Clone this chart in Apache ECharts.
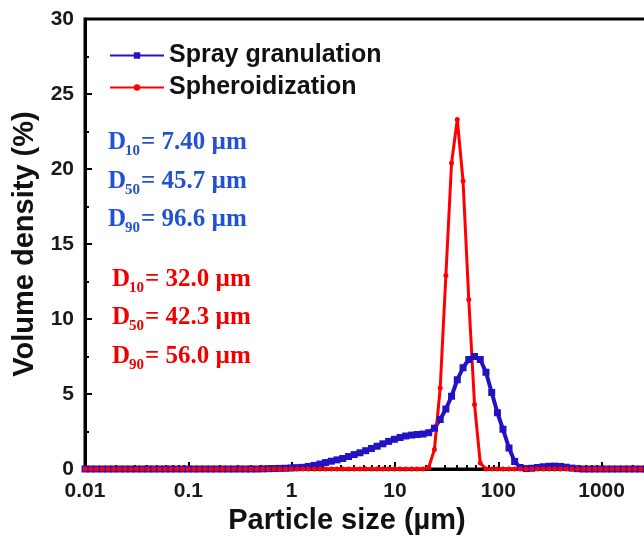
<!DOCTYPE html>
<html lang="en">
<head>
    <meta charset="utf-8" />
    <title>Particle size distribution</title>
    <script src="https://cdn.jsdelivr.net/npm/echarts@6/dist/echarts.min.js"></script>
    <style>
        html, body { margin: 0; padding: 0; background: #fff; }
        #chart { width: 644px; height: 538px; }
    </style>
</head>
<body>
    <div id="chart"></div>
    <script>
        // size classes (µm)
        var sizes = [0.0100, 0.0114, 0.0129, 0.0147, 0.0167, 0.0189, 0.0215, 0.0244, 0.0278, 0.0315,
            0.0358, 0.0407, 0.0463, 0.0526, 0.0597, 0.0679, 0.0771, 0.0876, 0.0995, 0.113,
            0.128, 0.146, 0.166, 0.188, 0.214, 0.243, 0.276, 0.314, 0.357, 0.405,
            0.460, 0.523, 0.594, 0.675, 0.767, 0.872, 0.991, 1.13, 1.28, 1.45,
            1.65, 1.88, 2.13, 2.42, 2.75, 3.12, 3.55, 4.03, 4.58, 5.21,
            5.92, 6.72, 7.64, 8.68, 9.86, 11.2, 12.7, 14.5, 16.4, 18.7,
            21.2, 24.1, 27.4, 31.1, 35.3, 40.1, 45.6, 51.8, 58.9, 66.9,
            76.0, 86.4, 98.1, 111, 127, 144, 163, 186, 211, 240,
            272, 310, 352, 400, 454, 516, 586, 666, 756, 859,
            976, 1110, 1260, 1430, 1630, 1850, 2100, 2390, 2710, 3080, 3500];

        // volume density (%) - spray granulation
        var spray = [0, 0, 0, 0, 0, 0, 0, 0, 0, 0,
            0, 0, 0, 0, 0, 0, 0, 0, 0, 0,
            0, 0, 0, 0, 0, 0, 0, 0, 0, 0,
            0, 0.01, 0.02, 0.03, 0.04, 0.05, 0.07, 0.09, 0.11, 0.17,
            0.24, 0.33, 0.43, 0.52, 0.61, 0.70, 0.83, 0.96, 1.08, 1.22,
            1.37, 1.52, 1.68, 1.84, 1.98, 2.10, 2.20, 2.26, 2.30, 2.33,
            2.42, 2.72, 3.30, 4.00, 4.85, 5.95, 6.75, 7.30, 7.50, 7.30,
            6.45, 5.10, 3.75, 2.65, 1.40, 0.50, 0.10, 0.03, 0.05, 0.10,
            0.15, 0.18, 0.19, 0.17, 0.12, 0.06, 0.02, 0, 0, 0,
            0, 0, 0, 0, 0, 0, 0, 0, 0, 0, 0];

        // volume density (%) - spheroidization
        var sphero = [0, 0, 0, 0, 0, 0, 0, 0, 0, 0,
            0, 0, 0, 0, 0, 0, 0, 0, 0, 0,
            0, 0, 0, 0, 0, 0, 0, 0, 0, 0,
            0, 0, 0, 0, 0, 0, 0, 0, 0, 0,
            0, 0, 0, 0, 0, 0, 0, 0, 0, 0,
            0, 0, 0, 0, 0, 0, 0, 0, 0, 0,
            0.1, 1.3, 5.4, 12.9, 20.4, 23.3, 19.2, 11.3, 4.3, 0.4,
            0, 0, 0, 0, 0, 0, 0, 0, 0, 0,
            0, 0, 0, 0, 0, 0, 0, 0, 0, 0,
            0, 0, 0, 0, 0, 0, 0, 0, 0, 0, 0];

        var seriesNames = ['Spray granulation', 'Spheroidization'];
        var xTickLabels = ['0.01', '0.1', '1', '10', '100', '1000'];
        var sprayText = [['10', '= 7.40 µm'], ['50', '= 45.7 µm'], ['90', '= 96.6 µm']];
        var spheroText = [['10', '= 32.0 µm'], ['50', '= 42.3 µm'], ['90', '= 56.0 µm']];

        var blue = '#2212c4';
        var red = '#ff0000';
        var txtBlue = '#2152d4';
        var txtRed = '#f20000';

        function pairs(ys) {
            var out = [];
            for (var i = 0; i < sizes.length; i++) out.push([sizes[i], ys[i]]);
            return out;
        }

        // minor tick spots 2..9 in each decade
        var minorTicks = [];
        for (var e = -2; e <= 3; e++) {
            for (var m = 2; m <= 9; m++) minorTicks.push(m * Math.pow(10, e));
        }

        // D10/D50/D90 texts
        var graphics = [];
        function addLines(list, x0, yList, color) {
            for (var i = 0; i < list.length; i++) {
                var y = yList[i];
                graphics.push({ type: 'text', x: x0, y: y, style: { text: 'D', fill: color, font: 'bold 25px "Liberation Serif"', verticalAlign: 'middle' } });
                graphics.push({ type: 'text', x: x0 + 17, y: y + 8, style: { text: list[i][0], fill: color, font: 'bold 15px "Liberation Serif"', verticalAlign: 'middle' } });
                graphics.push({ type: 'text', x: x0 + 33, y: y, style: { text: list[i][1], fill: color, font: 'bold 25px "Liberation Serif"', verticalAlign: 'middle' } });
            }
        }
        addLines(sprayText, 108, [143, 182, 220], txtBlue);
        addLines(spheroText, 112, [280, 318, 357], txtRed);

        var chart = echarts.init(document.getElementById('chart'), null, { renderer: 'canvas' });
        var option = {
            animation: false,
            backgroundColor: '#fff',
            textStyle: { fontFamily: '"Liberation Sans", Arial, sans-serif' },
            grid: {
                left: 85, right: -3, top: 19, bottom: 69,
                show: true, borderColor: '#000', borderWidth: 3,
                outerBoundsMode: 'none'
            },
            legend: {
                data: seriesNames,
                orient: 'vertical',
                left: 104, top: 38,
                itemWidth: 54, itemHeight: 8, itemGap: 7,
                textStyle: { fontSize: 25, fontWeight: 'bold', color: '#111' }
            },
            xAxis: [{
                type: 'log', logBase: 10, min: 0.01, max: 2750,
                name: 'Particle size (µm)', nameLocation: 'middle', nameGap: 37,
                nameTextStyle: { fontSize: 29, fontWeight: 'bold', color: '#111', padding: [0, 38, 0, 0] },
                axisLine: { lineStyle: { color: '#000', width: 3 } },
                axisTick: { inside: true, length: 7, lineStyle: { color: '#000', width: 2 } },
                axisLabel: {
                    fontSize: 21, fontWeight: 'bold', color: '#1a1a1a', margin: 12, showMaxLabel: false,
                    formatter: function (v) { return xTickLabels[Math.round(Math.log10(v)) + 2] || ''; }
                },
                splitLine: { show: false }
            }, {
                type: 'log', logBase: 10, min: 0.01, max: 2750, position: 'bottom',
                axisLine: { show: false },
                axisTick: { inside: true, length: 4, customValues: minorTicks, lineStyle: { color: '#000', width: 2 } },
                axisLabel: { show: false },
                splitLine: { show: false }
            }],
            yAxis: {
                type: 'value', min: 0, max: 30, interval: 5,
                name: 'Volume density (%)', nameLocation: 'middle', nameGap: 42,
                nameTextStyle: { fontSize: 29, fontWeight: 'bold', color: '#111' },
                axisLine: { show: true, lineStyle: { color: '#000', width: 3 } },
                axisTick: { inside: true, length: 7, lineStyle: { color: '#000', width: 2 } },
                minorTick: { show: true, splitNumber: 2, length: 4, lineStyle: { color: '#000', width: 2 } },
                axisLabel: { fontSize: 21, fontWeight: 'bold', color: '#1a1a1a', margin: 11 },
                splitLine: { show: false }
            },
            series: [{
                name: seriesNames[0], type: 'line', data: pairs(spray),
                symbol: 'rect', symbolSize: 7,
                lineStyle: { color: blue, width: 4 },
                itemStyle: { color: blue }
            }, {
                name: seriesNames[1], type: 'line', data: pairs(sphero),
                symbol: 'circle', symbolSize: 5,
                lineStyle: { color: red, width: 3 },
                itemStyle: { color: red }
            }],
            graphic: graphics
        };
        chart.setOption(option);
    </script>
</body>
</html>
